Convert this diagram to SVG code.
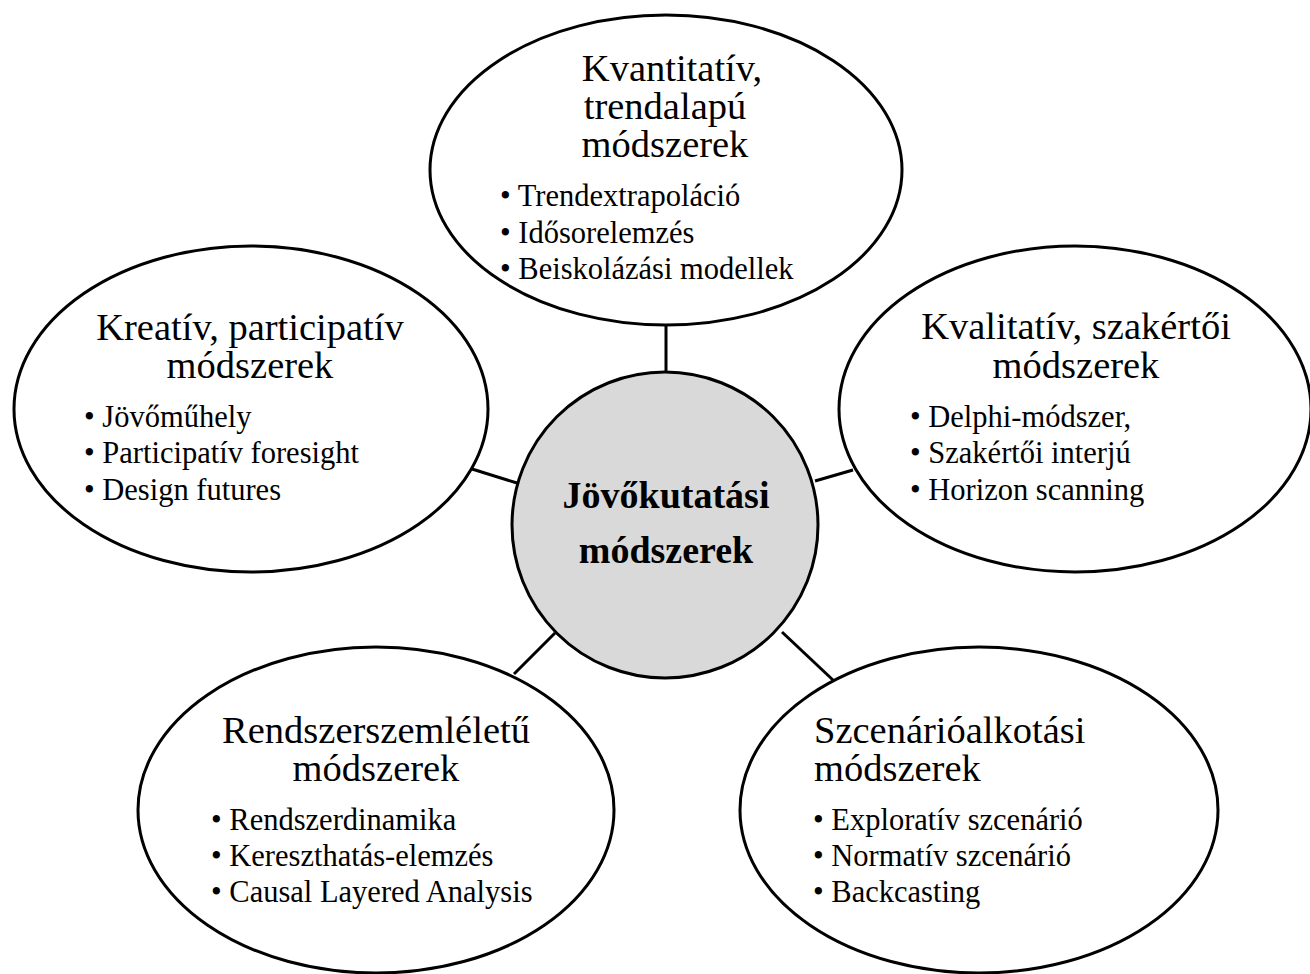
<svg xmlns="http://www.w3.org/2000/svg" width="1310" height="974" viewBox="0 0 1310 974">
<style>
.shape{fill:#fff;stroke:#000;stroke-width:3}
.hub{fill:#d9d9d9;stroke:#000;stroke-width:3}
.conn{stroke:#000;stroke-width:3;fill:none}
.t{font-family:"Liberation Serif","Times New Roman",serif;font-size:38.5px;fill:#000}
.b{font-family:"Liberation Serif","Times New Roman",serif;font-size:30.5px;fill:#000}
.c{font-family:"Liberation Serif","Times New Roman",serif;font-size:38px;font-weight:bold;fill:#000}
</style>
<rect width="1310" height="974" fill="#fff"/>
<g id="connectors">
<line class="conn" x1="666" y1="325" x2="666" y2="373"/>
<line class="conn" x1="472" y1="469" x2="517" y2="483"/>
<line class="conn" x1="815" y1="481" x2="853" y2="470"/>
<line class="conn" x1="555" y1="633" x2="514" y2="674"/>
<line class="conn" x1="782" y1="632" x2="834" y2="681"/>
</g>
<g id="top">
<ellipse class="shape" cx="666" cy="170" rx="236" ry="155"/>
<text class="t" text-anchor="middle" x="672" y="81">Kvantitatív,</text>
<text class="t" text-anchor="middle" x="665" y="119">trendalapú</text>
<text class="t" text-anchor="middle" x="665" y="157">módszerek</text>
<text class="b" x="500" y="206">• Trendextrapoláció</text>
<text class="b" x="500" y="243">• Idősorelemzés</text>
<text class="b" x="500" y="279">• Beiskolázási modellek</text>
</g>
<g id="left">
<ellipse class="shape" cx="251" cy="409" rx="237" ry="163"/>
<text class="t" text-anchor="middle" x="250" y="340">Kreatív, participatív</text>
<text class="t" text-anchor="middle" x="250" y="378">módszerek</text>
<text class="b" x="84" y="427">• Jövőműhely</text>
<text class="b" x="84" y="463">• Participatív foresight</text>
<text class="b" x="84" y="500">• Design futures</text>
</g>
<g id="right">
<ellipse class="shape" cx="1075" cy="409" rx="236" ry="163"/>
<text class="t" text-anchor="middle" x="1076" y="339">Kvalitatív, szakértői</text>
<text class="t" text-anchor="middle" x="1076" y="378">módszerek</text>
<text class="b" x="910" y="427">• Delphi-módszer,</text>
<text class="b" x="910" y="463">• Szakértői interjú</text>
<text class="b" x="910" y="500">• Horizon scanning</text>
</g>
<g id="bottom-left">
<ellipse class="shape" cx="376" cy="810" rx="238" ry="163"/>
<text class="t" text-anchor="middle" x="376" y="743">Rendszerszemléletű</text>
<text class="t" text-anchor="middle" x="376" y="781">módszerek</text>
<text class="b" x="211" y="830">• Rendszerdinamika</text>
<text class="b" x="211" y="866">• Kereszthatás-elemzés</text>
<text class="b" x="211" y="902">• Causal Layered Analysis</text>
</g>
<g id="bottom-right">
<ellipse class="shape" cx="979" cy="810" rx="239" ry="163"/>
<text class="t" x="814" y="743">Szcenárióalkotási</text>
<text class="t" x="814" y="781">módszerek</text>
<text class="b" x="813" y="830">• Exploratív szcenárió</text>
<text class="b" x="813" y="866">• Normatív szcenárió</text>
<text class="b" x="813" y="902">• Backcasting</text>
</g>
<g id="center">
<circle class="hub" cx="665" cy="525" r="153"/>
<text class="c" text-anchor="middle" x="666" y="508">Jövőkutatási</text>
<text class="c" text-anchor="middle" x="666" y="563">módszerek</text>
</g>
</svg>
